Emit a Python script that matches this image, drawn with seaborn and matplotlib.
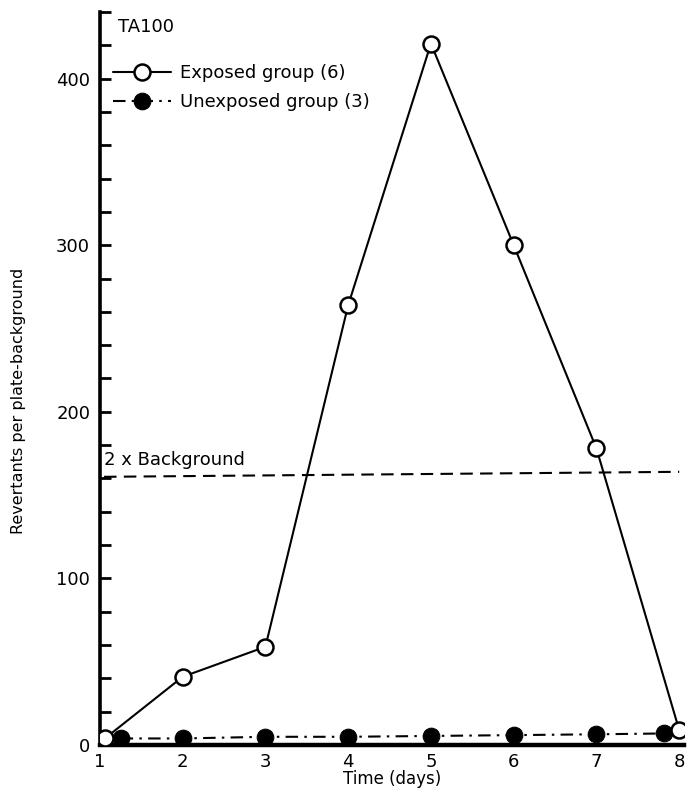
import matplotlib
matplotlib.use("Agg")
import matplotlib.pyplot as plt
import seaborn as sns
import pandas as pd

# ---- data ----
exposed_days = [1.06, 2, 3, 4, 5, 6, 7, 8]
exposed_vals = [4, 41, 59, 264, 421, 300, 178, 9]
unexposed_days = [1.25, 2, 3, 4, 5, 6, 7, 7.82]
unexposed_vals = [4, 4, 5, 5, 5.5, 6, 6.5, 7]
background_x = [1.05, 8.0]
background_y = [161, 164]
x_ticks = [1, 2, 3, 4, 5, 6, 7, 8]
y_major = [0, 100, 200, 300, 400]

exp_df = pd.DataFrame({"day": exposed_days, "val": exposed_vals})
unexp_df = pd.DataFrame({"day": unexposed_days, "val": unexposed_vals})
bg_df = pd.DataFrame({"day": background_x, "val": background_y})

sns.set_style("ticks")
plt.rcParams["font.family"] = ["DejaVu Sans"]
for k in ["text.color", "axes.labelcolor", "xtick.color", "ytick.color", "axes.edgecolor"]:
    plt.rcParams[k] = "black"

fig = plt.figure(figsize=(6.89, 7.91), dpi=100)
ax = fig.add_axes([0.145, 0.058, 0.848, 0.927])

sns.lineplot(data=bg_df, x="day", y="val", ax=ax, color="black",
             linewidth=1.5, linestyle=(0, (6, 3.5)), legend=False)
sns.lineplot(data=unexp_df, x="day", y="val", ax=ax, color="black",
             linewidth=1.5, linestyle=(0, (6, 3, 1.2, 3)), marker="o",
             markersize=12, markerfacecolor="black", markeredgecolor="black",
             label="Unexposed group (3)")
sns.lineplot(data=exp_df, x="day", y="val", ax=ax, color="black",
             linewidth=1.5, marker="o", markersize=11.5,
             markerfacecolor="white", markeredgecolor="black",
             markeredgewidth=1.8, label="Exposed group (6)", zorder=5)

ax.set_xlim(1, 8.06)
ax.set_ylim(0, 440)
ax.set_xticks(x_ticks)
ax.set_xticklabels([str(t) for t in x_ticks], fontsize=13)
ax.set_yticks(y_major)
ax.set_yticklabels([str(t) for t in y_major], fontsize=13)
ax.set_yticks(list(range(0, 441, 20)), minor=True)
ax.tick_params(axis="y", which="major", direction="in", length=8, width=2, pad=7)
ax.tick_params(axis="y", which="minor", direction="in", length=8, width=2)
ax.tick_params(axis="x", which="both", length=0, pad=6)

for s in ["top", "right"]:
    ax.spines[s].set_visible(False)
ax.spines["left"].set_linewidth(2.6)
ax.spines["bottom"].set_linewidth(3.2)

ax.set_xlabel("Time (days)", fontsize=12, labelpad=-1)
ax.set_ylabel("Revertants per plate-background", fontsize=11.5)
ax.yaxis.set_label_coords(-0.127, 0.47)

ax.text(1.05, 171, "2 x Background", fontsize=13, ha="left", va="center")
ax.text(0.031, 0.979, "TA100", transform=ax.transAxes, fontsize=13,
        ha="left", va="center")

handles, labels = ax.get_legend_handles_labels()
order = [labels.index("Exposed group (6)"), labels.index("Unexposed group (3)")]
leg = ax.legend([handles[i] for i in order], [labels[i] for i in order],
                loc="upper left", bbox_to_anchor=(0.022, 0.929), frameon=False,
                fontsize=13, handlelength=3.2, handletextpad=0.5,
                labelspacing=0.62, borderaxespad=0, borderpad=0)

fig.savefig("out.png", dpi=100)
